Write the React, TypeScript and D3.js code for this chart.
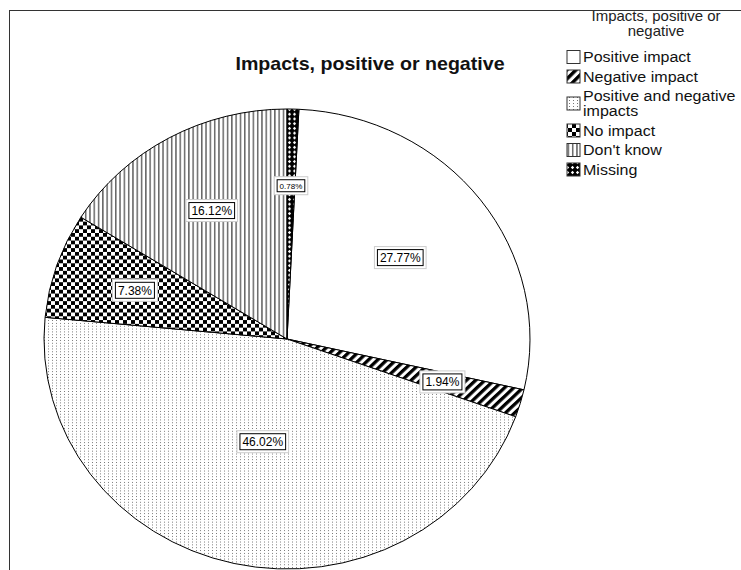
import React from "react";
import * as d3 from "d3";

const categories = [
  "Positive impact",
  "Negative impact",
  "Positive and negative impacts",
  "No impact",
  "Don't know",
  "Missing",
];
const percents = [27.77, 1.94, 46.02, 7.38, 16.12, 0.78];
const patternIds = ["pPos", "pNeg", "pPosNeg", "pNone", "pDk", "pMiss"];
const chartTitle = "Impacts, positive or negative";
const legendTitle = ["Impacts, positive or", "negative"];

const W = 741;
const H = 570;
const cx = 287;
const cy = 339;
const rx = 243;
const ry = 230;
const SX = 1.07; // horizontal stretch of the original image
const FONT = "'Liberation Sans', Arial, sans-serif";

function wrap(s: string, max: number): string[] {
  if (s.length <= max) return [s];
  const idx = s.lastIndexOf(" ", max);
  return [s.slice(0, idx), s.slice(idx + 1)];
}

function textW(s: string, size: number): number {
  let w = 0;
  for (const ch of s) {
    if (ch === ".") w += 0.278;
    else if (ch === "%") w += 0.889;
    else w += 0.556;
  }
  return w * size;
}

function SText(props: {
  x: number;
  y: number;
  size: number;
  anchor?: string;
  weight?: string;
  fill?: string;
  sx?: number;
  children: React.ReactNode;
}) {
  const { x, y, size, anchor = "start", weight = "normal", fill = "#111", sx = SX } = props;
  return (
    <g transform={`translate(${x},${y}) scale(${sx},1)`}>
      <text x={0} y={0} fontSize={size} textAnchor={anchor as any} fontWeight={weight} fill={fill}>
        {props.children}
      </text>
    </g>
  );
}

function Patterns() {
  return (
    <defs>
      <pattern id="pPos" patternUnits="userSpaceOnUse" width={4} height={4}>
        <rect width={4} height={4} fill="#fff" />
      </pattern>
      <pattern id="pNeg" patternUnits="userSpaceOnUse" width={6.5} height={6.5} patternTransform="rotate(45)">
        <rect width={6.5} height={6.5} fill="#fff" />
        <rect width={3.4} height={6.5} fill="#000" />
      </pattern>
      <pattern id="pPosNeg" patternUnits="userSpaceOnUse" width={4} height={3}>
        <rect width={4} height={3} fill="#fff" />
        <rect x={1} y={1} width={1} height={1} fill="#777" />
      </pattern>
      <pattern id="pNone" patternUnits="userSpaceOnUse" width={8} height={8}>
        <rect width={8} height={8} fill="#fff" />
        <rect width={4} height={4} fill="#000" />
        <rect x={4} y={4} width={4} height={4} fill="#000" />
      </pattern>
      <pattern id="pDk" patternUnits="userSpaceOnUse" width={4.3} height={4}>
        <rect width={4.3} height={4} fill="#fff" />
        <rect x={0} width={1.5} height={4} fill="#666" />
      </pattern>
      <pattern id="pMiss" patternUnits="userSpaceOnUse" width={5} height={5}>
        <rect width={5} height={5} fill="#000" />
        <path d="M2.5,0.8 L4.2,2.5 L2.5,4.2 L0.8,2.5 Z" fill="#fff" />
      </pattern>
    </defs>
  );
}

export default function App() {
  const total = d3.sum(percents);
  const start = (2 * Math.PI * percents[percents.length - 1]) / total;
  const pie = d3
    .pie<number>()
    .sort(null)
    .value((d) => d)
    .startAngle(start)
    .endAngle(start + 2 * Math.PI);
  const arcs = pie(percents);
  const arc = d3.arc<d3.PieArcDatum<number>>().innerRadius(0).outerRadius(rx);

  const labels = arcs.map((a, i) => {
    const half = (a.endAngle - a.startAngle) / 2;
    const mid = (a.startAngle + a.endAngle) / 2;
    const f = (2 * Math.sin(half)) / (3 * half);
    const x = cx + rx * f * Math.sin(mid);
    const y = cy - ry * f * Math.cos(mid);
    const text = percents[i].toFixed(2) + "%";
    const size = percents[i] < 1 ? 8 : 12;
    return { x, y, text, size };
  });

  // legend layout
  const legendX = 567;
  const itemGap = 19.5;
  const wrapGap = 15;
  let yCursor = 57;
  const legendItems = categories.map((c, i) => {
    const lines = wrap(c, 21);
    const y0 = yCursor;
    yCursor += (lines.length - 1) * wrapGap + itemGap;
    return { lines, y0, id: patternIds[i] };
  });

  return (
    <svg
      width={W}
      height={H}
      style={{ position: "absolute", left: 0, top: 0, background: "#fff" }}
      fontFamily={FONT}
    >
      <Patterns />
      <rect width={W} height={H} fill="#fff" />
      <line x1={9} y1={10.5} x2={W} y2={10.5} stroke="#333" strokeWidth={1} />
      <line x1={9.5} y1={10} x2={9.5} y2={H} stroke="#333" strokeWidth={1} />

      <SText x={370} y={70} size={18} anchor="middle" weight="bold" sx={1.09}>
        {chartTitle}
      </SText>

      <g transform={`translate(${cx},${cy}) scale(1,${ry / rx})`}>
        {arcs.map((a, i) => (
          <path
            key={i}
            d={arc(a) || ""}
            fill={`url(#${patternIds[i]})`}
            stroke="#000"
            strokeWidth={1}
            vectorEffect="non-scaling-stroke"
          />
        ))}
      </g>

      {labels.map((l, i) => {
        const w = textW(l.text, l.size) + 5;
        const h = l.size + 4;
        return (
          <g key={i}>
            <rect
              x={l.x - w / 2 - 3}
              y={l.y - h / 2 - 3}
              width={w + 6}
              height={h + 6}
              fill="#fff"
              stroke="#ccc"
              strokeWidth={1}
            />
            <rect
              x={l.x - w / 2}
              y={l.y - h / 2}
              width={w}
              height={h}
              fill="#fff"
              stroke="#000"
              strokeWidth={1}
            />
            <text
              x={l.x}
              y={l.y + l.size * 0.36}
              textAnchor="middle"
              fontSize={l.size}
              fill="#000"
            >
              {l.text}
            </text>
          </g>
        );
      })}

      <g>
        {legendTitle.map((t, i) => (
          <SText key={i} x={656} y={21 + i * 14.5} size={14} anchor="middle" fill="#222">
            {t}
          </SText>
        ))}
        {legendItems.map((it, i) => {
          const mid = it.y0 + ((it.lines.length - 1) * wrapGap) / 2;
          return (
            <g key={i}>
              <rect
                x={legendX}
                y={mid - 6.5}
                width={13}
                height={13}
                fill={`url(#${it.id})`}
                stroke="#333"
                strokeWidth={1}
              />
              {it.lines.map((ln, j) => (
                <SText key={j} x={legendX + 16} y={it.y0 + j * wrapGap + 5} size={15}>
                  {ln}
                </SText>
              ))}
            </g>
          );
        })}
      </g>
    </svg>
  );
}
